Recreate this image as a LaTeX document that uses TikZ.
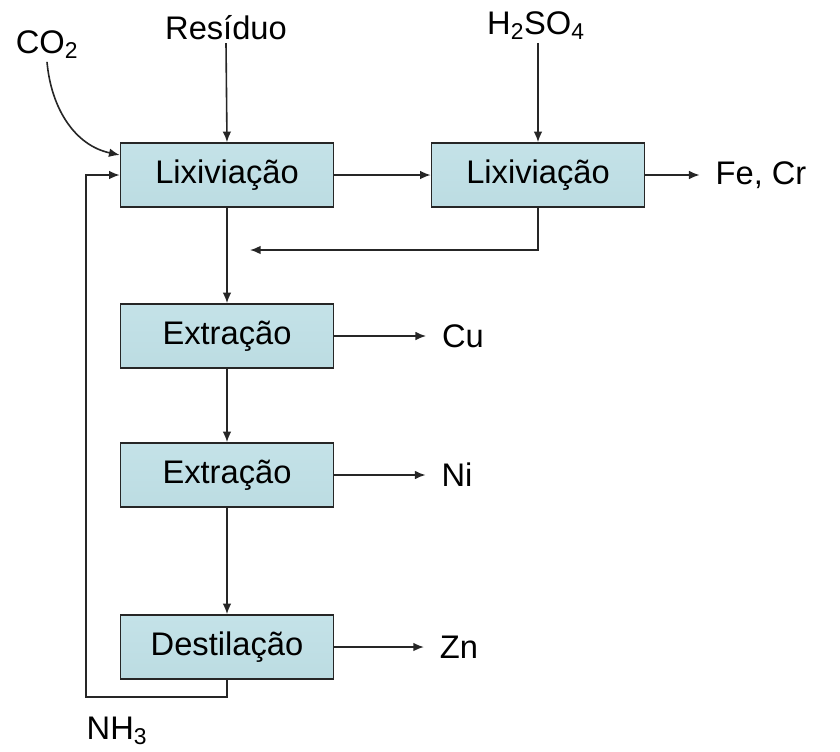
\documentclass[tikz,border=0pt]{standalone}
\usepackage{fontspec}
\setmainfont{Liberation Sans}
\usetikzlibrary{positioning, arrows.meta}
\definecolor{boxtop}{RGB}{196,226,232}
\definecolor{boxmid}{RGB}{236,246,248}
\definecolor{boxbot}{RGB}{188,220,226}

\begin{document}
\begin{tikzpicture}[
  x=0.75pt, y=-0.75pt,
  font=\fontsize{24.5}{29}\selectfont,
  unit/.style={draw=black!85, line width=1.2pt, minimum width=159.75pt, minimum height=48pt, inner sep=0pt,
    top color=boxtop, middle color=boxmid, bottom color=boxbot},
  prod/.style={inner sep=6pt, outer sep=6pt},
  feed/.style={inner sep=2pt},
  arr/.style={-{Latex[length=8pt, width=6.5pt]}, line width=1.2pt, black!85}
]
\useasboundingbox (0,0) rectangle (840,751);

% --- feeds ---
\node[feed] (res)   at (226,28)  {Resíduo};
\node[feed] (co2)   at (47,45)   {CO\textsubscript{2}};
\node[feed] (h2so4) at (536,26)  {H\textsubscript{2}SO\textsubscript{4}};

% --- leaching ---
\node[unit] (lix1) at (227,175) {Lixiviação};
\node[unit] (lix2) at (538,175) {Lixiviação};
\node[prod] (fecr) at (761,175) {Fe, Cr};

\draw[arr] (res.south) -- (lix1.north);
\draw[arr] (co2.south) to[out=-85, in=168] ([yshift=15pt]lix1.west);
\draw[arr] (h2so4.south-|lix2.north) -- (lix2.north);
\draw[arr] (lix1.east) -- (lix2.east-|lix2.west);
\draw[arr] (lix2.east) -- (fecr.west);

% residue from second leach back to the main line
\coordinate (ret) at (250,250);
\draw[arr] (lix2.south) |- (ret);

% --- separation train ---
\node[unit] (ext1) at (227,336) {Extração};
\node[unit] (ext2) at (227,475) {Extração};
\node[unit] (dest) at (227,647) {Destilação};
\node[prod] (cu) at (463,336) {Cu};
\node[prod] (ni) at (457,475) {Ni};
\node[prod] (zn) at (459,647) {Zn};

\draw[arr] (lix1.south) -- (ext1.north);
\draw[arr] (ext1.south) -- (ext2.north);
\draw[arr] (ext2.south) -- (dest.north);
\draw[arr] (ext1.east) -- (cu.west);
\draw[arr] (ext2.east) -- (ni.west);
\draw[arr] (dest.east) -- (zn.west);

% ammonia recycle
\coordinate (loop) at (86,697);
\draw[arr] (dest.south) |- (loop) |- (lix1.west);
\node[feed] (nh3) at (117,731) {NH\textsubscript{3}};
\end{tikzpicture}
\end{document}
